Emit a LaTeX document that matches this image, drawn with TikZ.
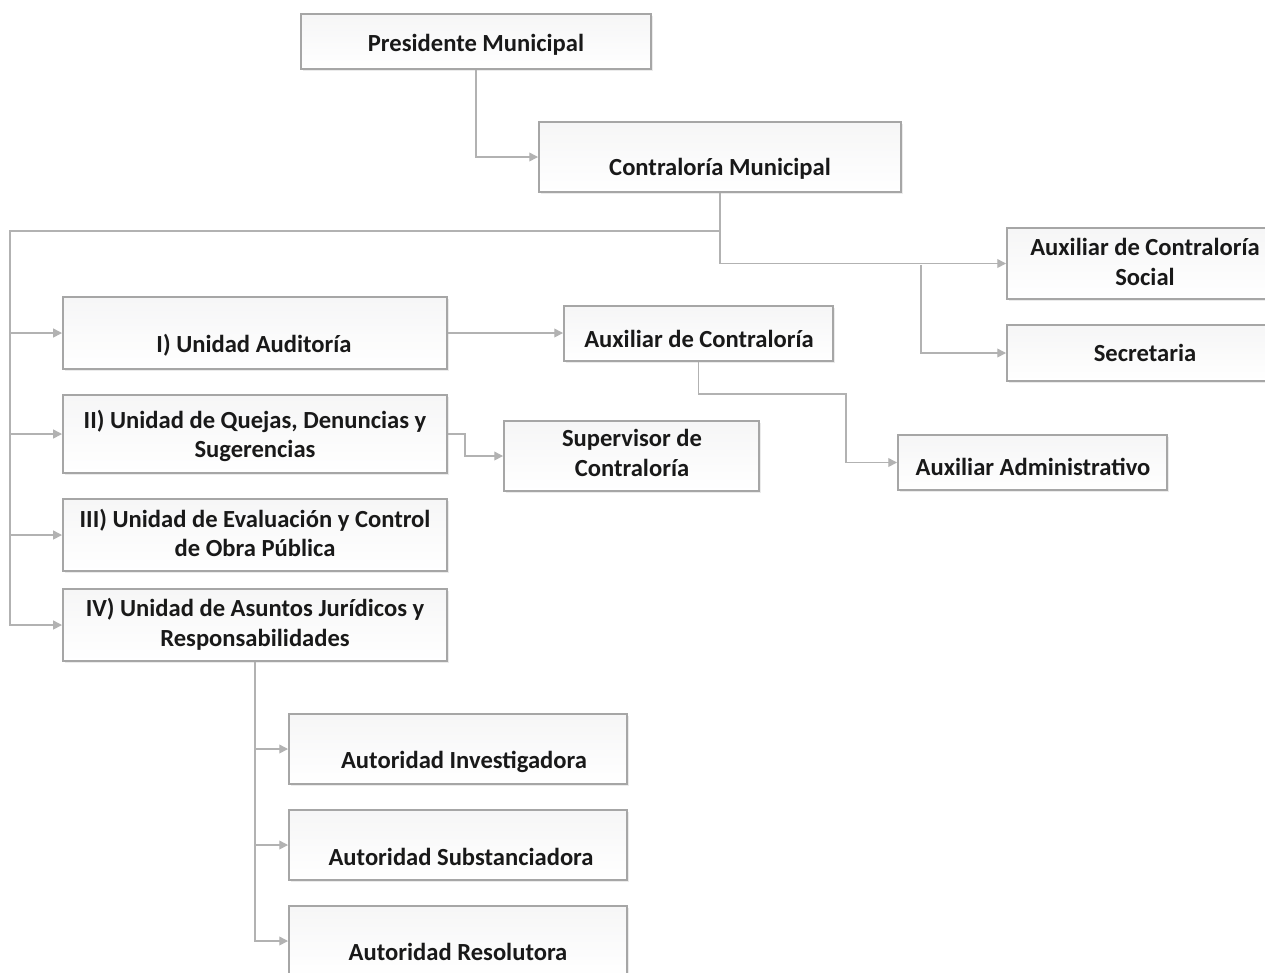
\documentclass[tikz,border=0pt]{standalone}
\usepackage{fontspec}
\setmainfont{Carlito}
\usetikzlibrary{arrows.meta,fit,shadows}

\tikzset{
  box/.style={draw=gray!70, line width=1.1pt, inner sep=0pt,
    top color=blue!3!gray!7, bottom color=white,
    drop shadow={shadow xshift=0.4mm, shadow yshift=-0.4mm, fill=black!15}},
  lbl/.style={font=\bfseries\fontsize{14}{17}\selectfont, text=black!90, align=center},
  conn/.style={draw=gray!60, line width=0.8pt, -{Triangle[length=5pt,width=5pt]}},
}

\begin{document}
\begin{tikzpicture}[x=0.2mm, y=-0.2mm]
  \clip (0,0) rectangle (1265,972);
  \fill[white] (0,0) rectangle (1265,972);

  % boxes
  \node[box, fit={(301,14) (651,69)}] (pres) {};
  \node[box, fit={(539,122) (901,192)}] (contra) {};
  \node[box, fit={(1007,228) (1283,299)}] (acs) {};
  \node[box, fit={(1007,325) (1283,381)}] (sec) {};
  \node[box, fit={(63,297) (447,369)}] (u1) {};
  \node[box, fit={(564,306) (833,361)}] (auxc) {};
  \node[box, fit={(63,395) (447,473)}] (u2) {};
  \node[box, fit={(504,421) (759,491)}] (sup) {};
  \node[box, fit={(898,435) (1167,490)}] (adm) {};
  \node[box, fit={(63,499) (447,571)}] (u3) {};
  \node[box, fit={(63,589) (447,661)}] (u4) {};
  \node[box, fit={(289,714) (627,784)}] (aut1) {};
  \node[box, fit={(289,810) (627,880)}] (aut2) {};
  \node[box, fit={(289,906) (627,976)}] (aut3) {};

  % texts
  \node[lbl] (pres-t) at (476,45) {Presidente Municipal};
  \node[lbl] (contra-t) at (720,169) {Contraloría Municipal};
  \node[lbl] (acs-t) at (1145,262) {Auxiliar de Contraloría\\Social};
  \node[lbl] (sec-t) at (1145,353) {Secretaria};
  \node[lbl] (u1-t) at (254,345) {I) Unidad Auditoría};
  \node[lbl] (auxc-t) at (699,339) {Auxiliar de Contraloría};
  \node[lbl] (u2-t) at (255,436) {II) Unidad de Quejas, Denuncias y\\Sugerencias};
  \node[lbl] (sup-t) at (632,453) {Supervisor de\\Contraloría};
  \node[lbl] (adm-t) at (1033,467) {Auxiliar Administrativo};
  \node[lbl] (u3-t) at (255,533) {III) Unidad de Evaluación y Control\\de Obra Pública};
  \node[lbl] (u4-t) at (255,624) {IV) Unidad de Asuntos Jurídicos y\\Responsabilidades};
  \node[lbl] (aut1-t) at (464,762) {Autoridad Investigadora};
  \node[lbl] (aut2-t) at (461,857) {Autoridad Substanciadora};
  \node[lbl] (aut3-t) at (458,952) {Autoridad Resolutora};

  % connectors
  \coordinate (lbus) at (10,231);
  \coordinate (rbus) at (921,265);
  \draw[conn] (pres.south) |- (contra.west);
  \draw[conn] (contra.south) |- (lbus) |- (u4.west);
  \foreach \u in {u1,u2,u3}
    \draw[conn] (lbus |- \u.west) -- (\u.west);
  \draw[conn] (contra.south) |- (acs.west);
  \draw[conn] (rbus) |- (sec.west);
  \draw[conn] (u1.east) -- (u1.east -| auxc.west);
  \draw[conn] (u2.east) -- (465,434) |- (sup.west);
  \draw[conn] (auxc.south) |- (846,394) |- (adm.west);
  \draw[conn] (u4.south) |- (aut3.west);
  \foreach \a in {aut1,aut2}
    \draw[conn] (u4.south |- \a.west) -- (\a.west);
\end{tikzpicture}
\end{document}
